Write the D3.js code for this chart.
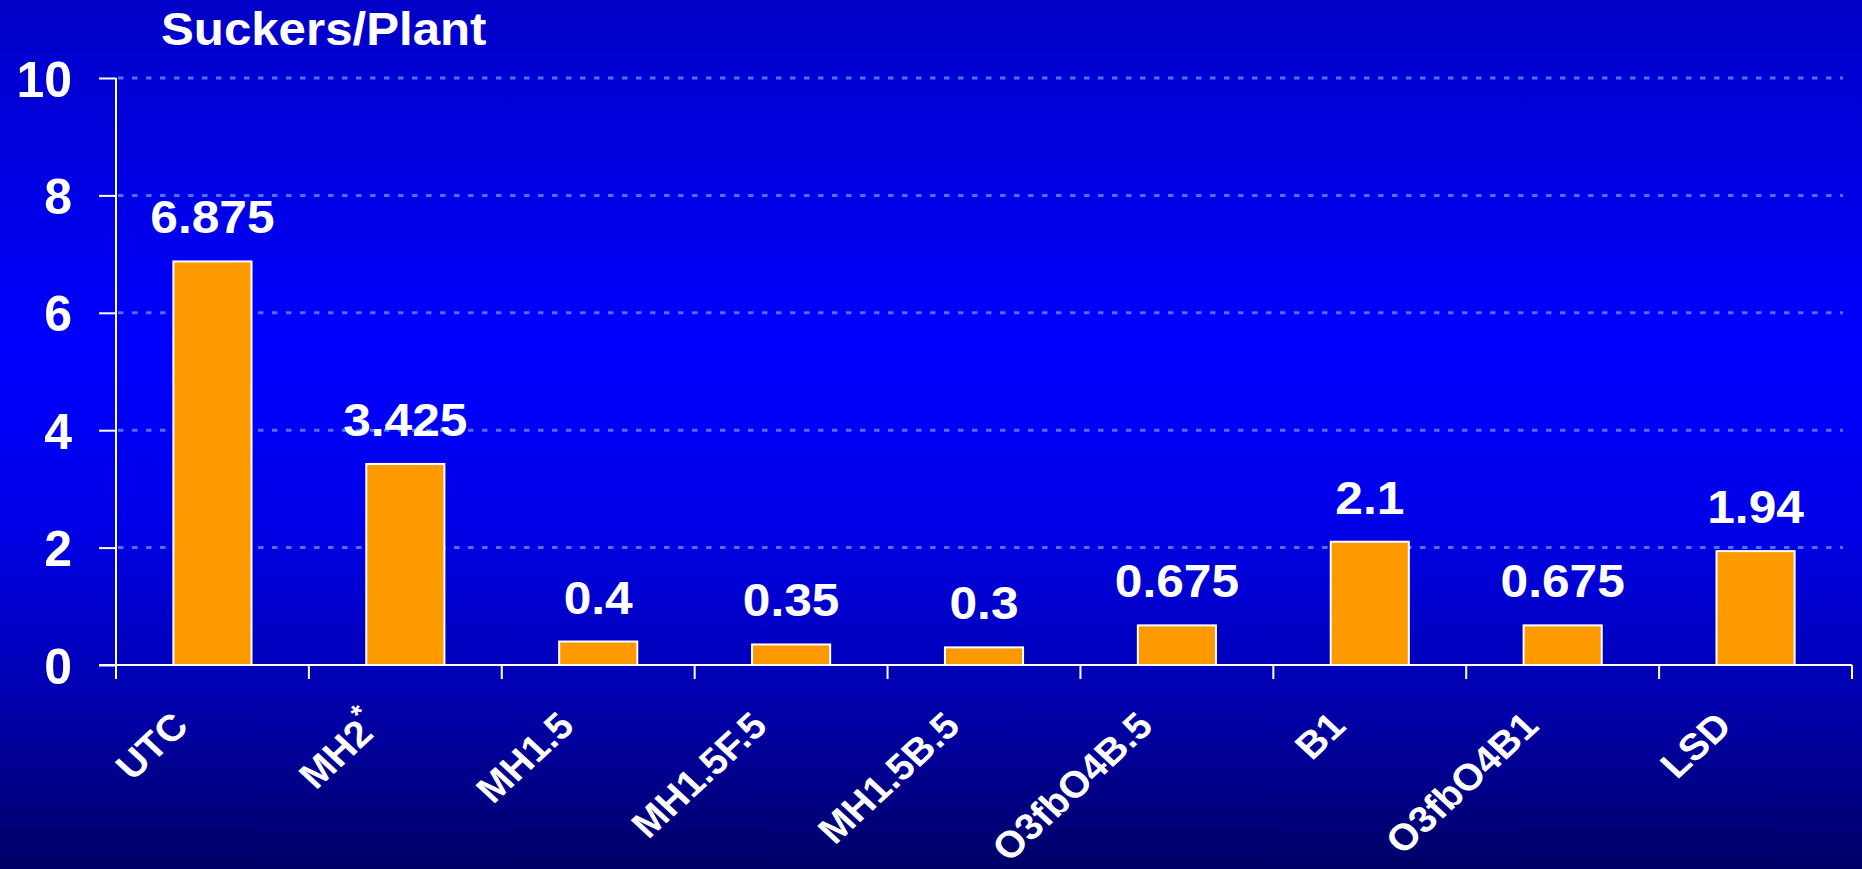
<!DOCTYPE html>
<html>
<head>
<meta charset="utf-8">
<script src="https://cdn.jsdelivr.net/npm/d3@7"></script>
<style>
  html, body { margin: 0; padding: 0; overflow: hidden; }
  svg { display: block; }
  text { font-family: "Liberation Sans", Arial, sans-serif; font-weight: bold; fill: #ffffff; }
</style>
</head>
<body>
<script>
// Treatments and mean suckers per plant
const categories = ["UTC", "MH2*", "MH1.5", "MH1.5F.5", "MH1.5B.5", "O3fbO4B.5", "B1", "O3fbO4B1", "LSD"];
const values = [6.875, 3.425, 0.4, 0.35, 0.3, 0.675, 2.1, 0.675, 1.94];
const valueLabels = ["6.875", "3.425", "0.4", "0.35", "0.3", "0.675", "2.1", "0.675", "1.94"];
const yTicks = [0, 2, 4, 6, 8, 10];
const title = "Suckers/Plant";

const W = 1862, H = 869;
const plot = { left: 116, right: 1852, top: 78, bottom: 665 };

const svg = d3.select("body").append("svg")
  .attr("width", W).attr("height", H);

// Background: vertical blue gradient, brightest in the middle of the plot
const defs = svg.append("defs");
const grad = defs.append("linearGradient")
  .attr("id", "bg").attr("x1", 0).attr("y1", 0).attr("x2", 0).attr("y2", 1);
[[0, "#0000c6"], [0.40, "#0000ff"], [0.60, "#0000e8"], [0.78, "#0000b6"], [1, "#000066"]]
  .forEach(([o, c]) => grad.append("stop").attr("offset", o).attr("stop-color", c));
svg.append("rect").attr("width", W).attr("height", H).attr("fill", "url(#bg)");

const x = d3.scaleBand().domain(categories).range([plot.left, plot.right]).padding(0);
const y = d3.scaleLinear().domain([0, 10]).range([plot.bottom, plot.top]);
const barW = x.bandwidth() * 0.405;

// Dotted gridlines
svg.append("g").selectAll("line")
  .data(yTicks.filter(t => t > 0))
  .join("line")
  .attr("x1", plot.left + 2).attr("x2", 1843)
  .attr("y1", d => y(d)).attr("y2", d => y(d))
  .attr("stroke", "#4676ff").attr("stroke-width", 3)
  .attr("stroke-dasharray", "5.5 8.5");

// Bars
svg.append("g").selectAll("rect")
  .data(values)
  .join("rect")
  .attr("x", (d, i) => x(categories[i]) + (x.bandwidth() - barW) / 2)
  .attr("y", d => y(d))
  .attr("width", barW)
  .attr("height", d => y(0) - y(d))
  .attr("fill", "#ff9900")
  .attr("stroke", "#ffffff").attr("stroke-width", 2);

// Value labels above bars
svg.append("g").selectAll("text")
  .data(values)
  .join("text")
  .attr("transform", (d, i) => `translate(${x(categories[i]) + x.bandwidth() / 2},${y(d) - 28}) scale(1.08,1)`)
  .attr("text-anchor", "middle")
  .style("font-size", "46px")
  .text((d, i) => valueLabels[i]);

// Y axis
const yAxis = d3.axisLeft(y).tickValues(yTicks).tickSize(17).tickPadding(0).tickFormat(d3.format("d"));
const gy = svg.append("g").attr("transform", `translate(${plot.left},0)`).call(yAxis);
gy.select(".domain").attr("d", `M0,${plot.top}V${plot.bottom}`).attr("stroke", "#fff").attr("stroke-width", 2);
gy.selectAll(".tick line").attr("stroke", "#fff").attr("stroke-width", 2);
gy.selectAll(".tick text").remove();
gy.selectAll(".tick").append("text")
  .attr("x", -44).attr("y", 18)
  .attr("text-anchor", "end")
  .style("font-size", "50px")
  .text(d => d);

// X axis: baseline with ticks on category boundaries
const gx = svg.append("g");
gx.append("line")
  .attr("x1", plot.left - 17).attr("x2", plot.right)
  .attr("y1", plot.bottom).attr("y2", plot.bottom)
  .attr("stroke", "#fff").attr("stroke-width", 2);
const bounds = categories.map(c => x(c)).concat([x(categories[categories.length - 1]) + x.bandwidth()]);
gx.selectAll("line.tick")
  .data(bounds)
  .join("line").attr("class", "tick")
  .attr("x1", d => d).attr("x2", d => d)
  .attr("y1", plot.bottom).attr("y2", plot.bottom + 14)
  .attr("stroke", "#fff").attr("stroke-width", 2);

// Rotated category labels
const lab = gx.selectAll("text.cat")
  .data(categories)
  .join("text").attr("class", "cat")
  .attr("transform", d => `translate(${x(d) + x.bandwidth() / 2 - 22},${plot.bottom + 63}) scale(1.08,1) rotate(-45)`)
  .attr("text-anchor", "end")
  .style("font-size", "37px");
lab.each(function (d) {
  const t = d3.select(this);
  if (d.endsWith("*")) {
    t.append("tspan").text(d.slice(0, -1));
    t.append("tspan").attr("dy", -17).style("font-size", "27px").text("*");
  } else {
    t.text(d);
  }
});

// Title
svg.append("text")
  .attr("transform", "translate(161,45) scale(1.07,1)")
  .style("font-size", "46px")
  .text(title);
</script>
</body>
</html>
